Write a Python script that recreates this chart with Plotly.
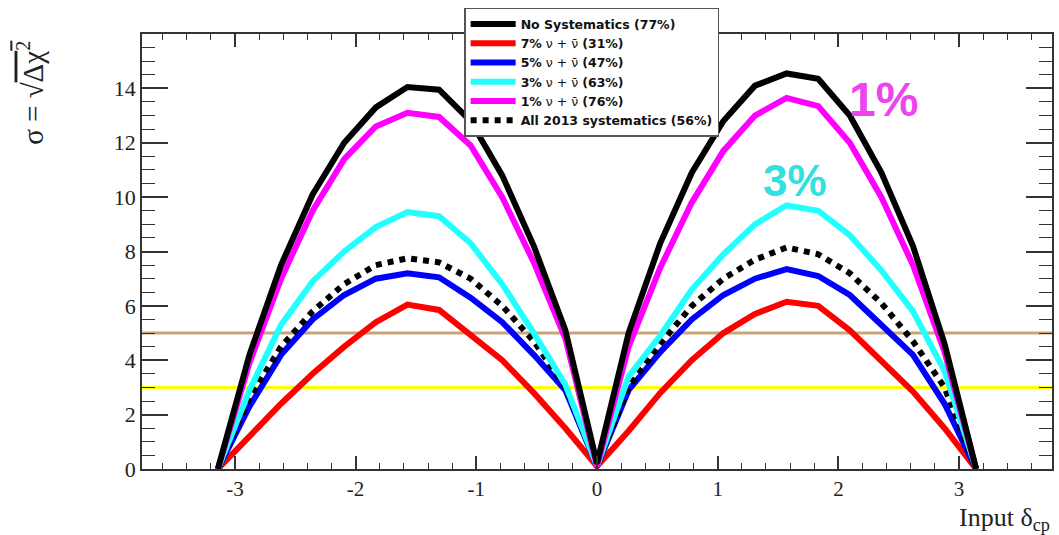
import plotly.graph_objects as go

# x grid: k*pi/12 for k = -12..12
k_steps = list(range(-12, 13))
PI = 3.141592653589793
delta_cp = [k * PI / 12 for k in k_steps]

no_syst = [0.0, 4.2, 7.5, 10.1, 12.0, 13.3, 14.05, 13.95, 12.8, 10.8, 8.2, 5.1, 0.2,
           5.0, 8.3, 10.9, 12.8, 14.1, 14.55, 14.35, 13.0, 10.9, 8.2, 4.6, 0.0]
syst_7 = [0.0, 1.2, 2.4, 3.5, 4.5, 5.4, 6.05, 5.85, 4.95, 4.0, 2.8, 1.5, 0.1,
          1.4, 2.8, 4.0, 5.0, 5.7, 6.15, 6.0, 5.1, 4.0, 2.85, 1.5, 0.0]
syst_5 = [0.0, 2.3, 4.2, 5.5, 6.4, 7.0, 7.2, 7.05, 6.3, 5.4, 4.2, 2.9, 0.1,
          2.9, 4.3, 5.5, 6.4, 7.0, 7.35, 7.1, 6.4, 5.3, 4.2, 2.4, 0.0]
syst_3 = [0.0, 2.9, 5.3, 6.9, 8.0, 8.9, 9.45, 9.3, 8.3, 6.8, 5.0, 3.1, 0.1,
          3.4, 4.9, 6.6, 7.9, 9.0, 9.7, 9.5, 8.6, 7.3, 5.8, 3.6, 0.0]
syst_1 = [0.0, 3.9, 7.0, 9.5, 11.4, 12.6, 13.1, 12.95, 11.9, 10.0, 7.6, 4.8, 0.1,
          4.5, 7.4, 9.8, 11.7, 13.0, 13.65, 13.35, 12.0, 10.0, 7.5, 4.3, 0.0]
syst_2013 = [0.0, 2.6, 4.5, 5.8, 6.8, 7.5, 7.75, 7.6, 7.0, 6.0, 4.7, 3.0, 0.1,
             3.0, 4.6, 6.0, 7.0, 7.7, 8.15, 7.9, 7.2, 6.1, 4.7, 3.0, 0.0]

series_names = [
    "<b>No Systematics (77%)</b>",
    "<b>7%</b> ν + ν̄ <b>(31%)</b>",
    "<b>5%</b> ν + ν̄ <b>(47%)</b>",
    "<b>3%</b> ν + ν̄ <b>(63%)</b>",
    "<b>1%</b> ν + ν̄ <b>(76%)</b>",
    "<b>All 2013 systematics (56%)</b>",
]
series_values = [no_syst, syst_7, syst_5, syst_3, syst_1, syst_2013]
series_colors = ["#000000", "#ff0000", "#0000ff", "#22ffff", "#ff00ff", "#000000"]
series_dash = ["solid", "solid", "solid", "solid", "solid", "dot"]

# reference significance levels
ref_levels = [5, 3]
ref_colors = ["#c8a478", "#ffff00"]

x_tick_vals = [-3, -2, -1, 0, 1, 2, 3]
x_tick_text = ["-3", "-2", "-1", "0", "1", "2", "3"]
y_tick_vals = [0, 2, 4, 6, 8, 10, 12, 14]

fig = go.Figure()

draw_order = [1, 2, 5, 3, 4, 0]
for i in draw_order:
    fig.add_trace(go.Scatter(
        x=delta_cp, y=series_values[i], mode="lines", name=series_names[i],
        line=dict(color=series_colors[i], width=6, dash=series_dash[i]),
        legendrank=i + 1,
    ))

for lvl, col in zip(ref_levels, ref_colors):
    fig.add_shape(type="line", xref="paper", x0=0, x1=1, yref="y", y0=lvl, y1=lvl,
                  line=dict(color=col, width=3), layer="below")

serif = "Liberation Serif"
axis_common = dict(showgrid=False, zeroline=False, showline=True, linecolor="#333333",
                   linewidth=1.5, mirror="ticks", ticks="inside", tickcolor="#333333")

fig.update_xaxes(range=[-3.77, 3.77], tickvals=x_tick_vals, ticktext=x_tick_text,
                 ticklen=13, tickwidth=1.5,
                 minor=dict(dtick=0.2, ticks="inside", ticklen=6, tickcolor="#333333", tickwidth=1.2),
                 tickfont=dict(family=serif, size=21, color="#222222"), **axis_common)
fig.update_yaxes(range=[0, 16], tickvals=y_tick_vals, ticklen=26, tickwidth=1.5,
                 minor=dict(dtick=0.5, ticks="inside", ticklen=13, tickcolor="#333333", tickwidth=1.2),
                 tickfont=dict(family=serif, size=22, color="#222222"), **axis_common)

fig.add_annotation(xref="paper", yref="paper", x=-0.123, y=0.865, textangle=-90,
                   xanchor="center", yanchor="middle",
                   text="σ = √<span style='text-decoration:overline'>Δχ<sup>2</sup></span>",
                   showarrow=False, font=dict(family=serif, size=29, color="#222222"))
fig.add_annotation(xref="paper", yref="paper", x=1.0, y=-0.115, xanchor="right",
                   yanchor="middle",
                   text="Input δ<sub>cp</sub>", showarrow=False,
                   font=dict(family=serif, size=26, color="#222222"))

fig.add_annotation(x=2.37, y=13.6, text="<b>1%</b>", showarrow=False,
                   font=dict(family="Liberation Sans", size=48, color="#ee44ee"))
fig.add_annotation(x=1.64, y=10.6, text="<b>3%</b>", showarrow=False,
                   font=dict(family="Liberation Sans", size=44, color="#33e0e0"))

fig.update_layout(
    width=1059, height=535,
    margin=dict(l=142, r=5, t=34, b=66),
    paper_bgcolor="white", plot_bgcolor="white",
    legend=dict(x=0.354, y=1.06, xanchor="left", yanchor="top",
                bgcolor="white", bordercolor="#555555", borderwidth=1.5,
                font=dict(family="DejaVu Sans", size=12.5, color="#111111"),
                tracegroupgap=0, itemwidth=45),
)

fig.write_html("out.html")
